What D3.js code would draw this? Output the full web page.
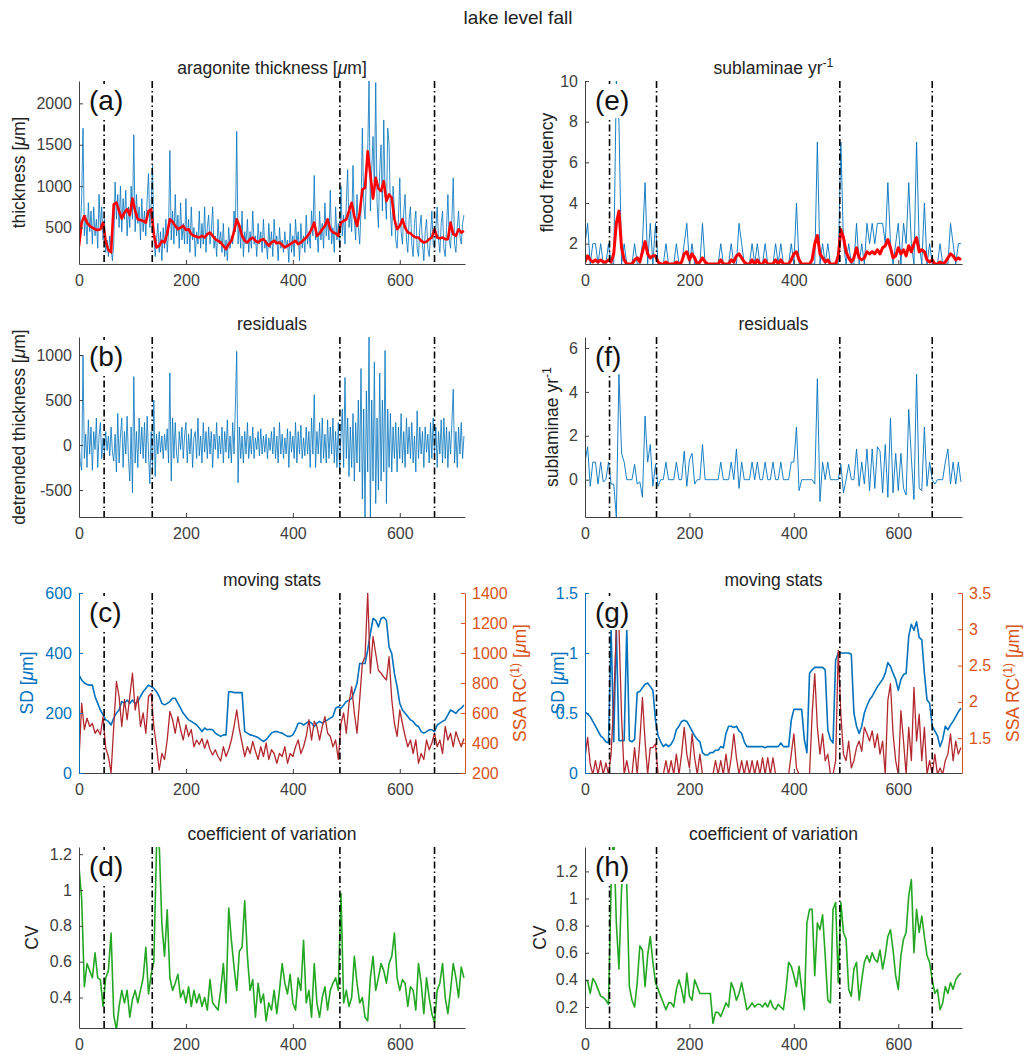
<!DOCTYPE html>
<html>
<head>
<meta charset="utf-8">
<script src="https://cdn.jsdelivr.net/npm/d3@7"></script>
<style>
body { margin: 0; background: #fff; }
svg { display: block; font-family: "Liberation Sans", Arial, Helvetica, sans-serif; }
</style>
</head>
<body>
<svg width="1035" height="1054"></svg>
<script>
// years of the varve record: every 5th year, and every 2.5 years for the raw thickness
const years = d3.range(0, 721, 5);
const yearsFine = d3.range(0, 721, 2.5);
const phaseBounds = [47, 137, 488, 665];
const xTicks = [0, 200, 400, 600];

// (a) aragonite thickness (on yearsFine) and its smoothed version (on years)
const thickness = [
	250,500,850,1700,400,650,300,800,450,700,300,750,400,600,250,900,
	500,750,350,600,200,350,150,400,250,100,300,1050,600,900,500,1000,
	450,850,600,950,400,750,500,1000,600,1620,450,900,550,750,350,850,
	450,700,400,850,1150,500,800,1250,400,150,350,550,200,450,100,500,
	250,600,200,450,1430,350,700,300,900,400,650,250,800,350,550,300,
	850,300,600,200,750,350,500,150,450,300,700,250,550,300,750,200,
	500,650,300,450,750,250,400,150,600,300,450,200,550,150,350,100,
	500,250,400,300,700,450,1660,300,550,250,700,150,450,300,600,200,
	450,250,700,300,400,150,550,300,450,200,600,250,350,120,550,250,
	450,150,600,300,400,100,500,250,350,200,450,250,350,80,550,200,
	400,150,600,300,450,100,550,250,400,200,650,300,450,250,700,400,
	1130,350,450,200,700,350,550,250,800,400,600,350,950,300,500,200,
	750,350,550,250,1000,400,650,300,800,1200,500,700,450,1250,600,350,
	900,500,300,700,1700,800,600,1100,1400,2270,700,1200,1600,900,2250,800,
	500,1200,1500,700,1800,900,600,1700,1500,700,400,1000,700,350,250,600,
	1100,450,300,700,900,350,200,600,750,300,150,550,700,250,150,500,
	650,300,100,450,600,250,150,400,700,300,250,500,750,350,200,550,
	700,250,150,500,900,350,250,600,1100,300,200,500,700,400,300,550,
	650
];
const thicknessSmooth = [
	275,560,640,560,520,500,480,470,480,560,
	330,230,200,780,800,700,610,680,720,650,
	850,700,600,590,580,560,700,720,420,260,
	280,340,320,430,600,570,520,480,500,520,
	470,480,420,400,390,380,400,380,420,440,
	400,360,340,320,280,240,300,340,450,600,
	520,400,340,320,360,380,340,320,350,360,
	320,280,320,340,310,320,290,260,280,300,
	320,340,300,320,350,380,420,480,560,400,
	430,480,520,600,480,440,430,400,560,580,
	600,700,800,640,520,680,960,980,1420,1140,
	850,1100,970,940,1060,820,900,860,600,480,
	520,600,500,440,430,400,380,380,340,320,
	330,360,380,480,380,370,380,360,360,560,
	420,400,480,440,460
];

// (b) detrended thickness (on yearsFine)
const thicknessResid = [
	50,-200,-280,1000,-150,120,-250,280,-100,200,-280,150,-50,300,-250,100,
	250,-150,80,-100,150,-60,100,-120,200,-80,-180,120,-300,350,-200,100,
	300,-250,150,-100,320,-150,-400,200,-530,760,-200,150,-250,300,-100,200,
	-150,250,-200,320,-100,-430,150,-250,500,-350,120,-100,150,-80,100,-150,
	120,-60,180,-200,800,-400,300,-150,250,-100,-200,150,-50,200,-150,100,
	250,-200,120,-100,180,-250,80,150,-150,300,-120,100,-200,250,-80,150,
	-150,200,-100,150,-250,120,-50,250,-150,100,-100,200,-200,150,-80,280,
	-150,100,-200,250,-100,420,1040,-420,200,-150,100,-200,150,-100,250,-150,
	100,-100,200,-150,80,-50,150,-120,180,-100,100,-80,120,-150,80,-60,
	150,-100,200,-150,100,-200,250,-100,120,-150,80,-100,180,-250,150,-80,
	100,-150,250,-200,150,-100,220,-150,80,-120,200,-100,150,-250,300,-100,
	560,-250,150,-100,250,-200,300,-150,120,-200,280,-150,200,-100,300,-200,
	150,-250,250,-300,100,400,-250,750,-150,300,-350,200,-250,350,-400,250,
	-200,500,-300,850,-600,400,-800,600,-300,1200,-800,500,-400,920,-650,300,
	-500,800,-400,500,-300,1050,-650,400,-250,350,-300,200,-150,250,-300,200,
	-150,350,-200,150,-250,300,-100,200,-150,250,-200,100,-300,380,-150,200,
	-100,150,-250,200,-80,120,-200,250,-150,300,-100,200,-250,150,-100,280,
	-200,300,-150,200,-250,150,-100,250,620,-200,150,-250,200,-100,250,-150,
	100
];

// (c) moving SD and SSA RC(1) of thickness
const thicknessSD = [
	327,310,300,295,293,293,255,232,210,194,
	177,172,160,183,200,210,238,232,243,232,
	243,232,238,255,271,282,293,288,282,271,
	255,232,227,232,238,249,249,232,216,199,
	188,177,172,166,160,150,138,150,144,146,
	144,133,127,122,127,127,271,271,268,268,
	268,268,138,133,127,125,122,118,111,105,
	111,122,133,138,138,135,133,127,122,122,
	127,144,166,166,160,166,172,166,155,166,
	172,166,172,177,183,188,216,221,216,227,
	238,243,249,271,299,365,365,365,410,465,
	515,509,487,515,519,509,420,398,332,288,
	232,210,199,188,177,172,160,155,138,133,
	138,144,144,138,160,166,172,177,194,210,
	205,199,210,216,227
];
const thicknessRC = [
	290,665,490,565,510,530,465,490,455,575,
	365,310,200,510,810,710,510,690,555,710,
	865,620,710,510,600,465,710,730,510,375,
	220,330,290,420,610,555,465,575,490,420,
	520,445,490,375,420,390,430,365,420,355,
	320,355,310,280,375,310,355,420,510,620,
	490,400,310,375,330,410,345,290,375,310,
	400,290,355,330,265,330,310,375,265,330,
	310,375,420,330,375,445,555,420,545,510,
	420,510,575,465,445,375,420,290,530,600,
	465,665,775,600,465,690,930,975,1400,865,
	1110,995,885,865,840,820,975,690,530,445,
	620,530,445,375,420,330,420,265,330,290,
	420,355,400,465,375,420,330,510,420,465,
	375,475,420,375,430
];

// (d) coefficient of variation of thickness
const thicknessCV = [
	1.13,0.95,0.46,0.59,0.55,0.51,0.65,0.51,0.50,0.35,
	0.51,0.55,0.76,0.30,0.22,0.35,0.44,0.37,0.44,0.29,
	0.39,0.44,0.37,0.44,0.51,0.68,0.42,0.53,0.60,1.24,
	1.26,0.81,0.63,0.89,0.51,0.44,0.48,0.53,0.40,0.44,
	0.37,0.46,0.35,0.44,0.37,0.42,0.35,0.40,0.33,0.50,
	0.37,0.35,0.33,0.44,0.59,0.37,0.90,0.72,0.57,0.44,
	0.66,0.68,0.94,0.63,0.44,0.50,0.29,0.48,0.37,0.42,
	0.27,0.37,0.33,0.44,0.31,0.44,0.59,0.48,0.42,0.53,
	0.37,0.33,0.51,0.44,0.72,0.37,0.44,0.29,0.59,0.37,
	0.29,0.40,0.46,0.33,0.44,0.48,0.51,0.44,0.98,0.37,
	0.44,0.35,0.40,0.63,0.48,0.37,0.40,0.29,0.27,0.51,
	0.63,0.44,0.51,0.59,0.55,0.48,0.59,0.63,0.76,0.51,
	0.44,0.50,0.48,0.35,0.46,0.44,0.33,0.59,0.48,0.31,
	0.51,0.40,0.31,0.26,0.44,0.48,0.59,0.40,0.31,0.44,
	0.59,0.51,0.40,0.57,0.51
];

// (e) flood frequency (sublaminae per year) and smoothed
const floods = [
	2,3,1,2,2,1,2,1,1,2,
	1,1,10,8,1,2,1,1,1,2,
	1,1,2,5,1,3,1,3,1,1,
	1,2,1,1,1,2,1,1,2,3,
	1,2,1,1,1,3,1,1,1,1,
	1,1,2,1,1,1,2,1,1,3,
	2,1,1,1,2,1,2,1,1,2,
	1,1,1,2,1,2,1,1,1,2,
	1,4,1,1,1,1,1,1,1,7,
	1,2,1,2,1,1,1,1,7,2,
	1,2,1,1,3,1,2,1,3,2,
	3,2,3,3,3,2,5,2,1,2,
	3,1,3,2,5,2,1,7,2,1,
	4,1,2,1,1,1,2,1,1,1,
	3,2,1,2,2
];
const floodsSmooth = [
	1.1,1.4,1.2,1.1,1.2,1.1,1.2,1.1,1.1,1.2,
	1.1,1.5,3.0,3.6,1.8,1.2,1.0,1.0,1.0,1.2,
	1.3,1.1,1.6,2.1,1.5,1.3,1.4,1.4,1.1,1.0,
	1.0,1.1,1.0,1.0,1.0,1.1,1.0,1.1,1.5,1.6,
	1.2,1.5,1.3,1.0,1.1,1.3,1.1,1.0,1.0,1.0,
	1.0,1.0,1.2,1.0,1.0,1.0,1.2,1.1,1.4,1.5,
	1.3,1.1,1.0,1.0,1.2,1.0,1.2,1.0,1.0,1.2,
	1.0,1.0,1.0,1.2,1.0,1.2,1.0,1.0,1.0,1.2,
	1.5,1.6,1.2,1.0,1.0,1.0,1.0,1.2,2.0,2.4,
	1.5,1.3,1.1,1.2,1.0,1.0,1.0,1.4,2.7,2.3,
	1.6,1.3,1.1,1.3,1.8,1.3,1.2,1.3,1.6,1.5,
	1.6,1.5,1.7,1.5,1.8,1.9,2.2,1.8,1.3,1.4,
	1.8,1.5,1.7,1.4,1.9,1.6,2.0,2.3,1.6,1.7,
	1.6,1.2,1.1,1.2,1.0,1.0,1.1,1.0,1.1,1.3,
	1.5,1.4,1.2,1.3,1.2
];

// (f) flood frequency residuals
const floodsResid = [
	0.8,1.5,-0.3,0.8,0.8,-0.2,0.8,-0.1,0,0.8,
	-0.2,-0.2,-1.7,4.8,1.2,0.8,0,0,0,0.7,
	-0.2,-0.1,-0.8,2.9,0.8,1.6,-0.3,0.7,-0.3,0,
	0,0.8,0,0,0,0.8,0,0,1.3,-0.3,
	0.9,1.2,-0.2,0,0,1.6,0,0,0,0,
	0,0,0.8,0,0,0,0.8,0,1.4,-0.4,
	0.8,0,0,0,0.8,0,0.8,0,0,0.8,
	0,0,0.8,0,0,0.8,0,0,0,0.8,
	0.8,2.4,-0.5,0,0,0,0,0,-0.2,4.6,
	-1.0,0.8,0,0.8,0,0,0,0,0.7,-0.6,
	0,0.7,0,0,1.4,-0.3,0.8,-0.2,1.4,-0.5,
	1.4,-0.4,1.5,1.3,-0.6,1.6,-0.8,2.8,-0.6,1.2,
	-0.5,1.2,-0.4,-0.7,3.2,1.0,-0.9,4.8,-0.4,-0.5,
	2.4,-0.3,0.8,0,-0.2,0,0,0,0.8,1.4,
	-0.2,0.8,-0.2,0.8,-0.1
];

// (g) moving SD and SSA RC(1) of floods
const floodsSD = [
	0.51,0.49,0.47,0.43,0.39,0.35,0.31,0.29,0.26,0.25,
	1.2,0.26,1.2,0.27,0.27,0.27,1.2,0.27,0.26,0.28,
	0.67,0.68,0.71,0.74,0.75,0.72,0.69,0.44,0.31,0.26,
	0.22,0.24,0.22,0.24,0.28,0.36,0.39,0.43,0.44,0.43,
	0.39,0.35,0.31,0.28,0.26,0.17,0.15,0.15,0.17,0.17,
	0.19,0.19,0.22,0.21,0.33,0.39,0.39,0.38,0.39,0.35,
	0.33,0.26,0.22,0.22,0.22,0.22,0.22,0.22,0.22,0.21,
	0.22,0.22,0.22,0.22,0.22,0.25,0.22,0.22,0.22,0.44,
	0.53,0.53,0.53,0.53,0.28,0.17,0.83,0.86,0.88,0.88,
	0.88,0.88,0.86,0.36,0.28,0.25,0.94,1.0,1.0,1.0,
	1.0,1.0,0.99,0.5,0.39,0.33,0.39,0.5,0.56,0.61,
	0.64,0.68,0.72,0.75,0.78,0.83,0.92,0.89,0.83,0.78,
	0.69,0.78,0.82,0.83,1.14,1.24,1.19,1.26,1.13,1.11,
	0.83,0.61,0.58,0.39,0.35,0.31,0.22,0.28,0.39,0.36,
	0.4,0.43,0.47,0.51,0.54
];
const floodsRC = [
	1.23,1.51,1.14,1.0,1.19,1.0,1.19,1.0,1.16,1.0,
	1.28,2.0,3.0,3.04,1.8,1.0,1.19,1.0,1.0,1.37,
	1.0,1.46,2.06,1.46,1.0,1.37,1.37,1.42,1.0,1.0,
	1.0,1.19,1.0,1.19,1.0,1.28,1.0,1.28,1.65,1.28,
	1.09,1.56,1.23,1.0,1.28,1.0,1.0,1.0,1.0,1.0,
	1.19,1.0,1.19,1.0,1.28,1.0,1.23,1.56,1.23,1.0,
	1.19,1.0,1.19,1.0,1.19,1.0,1.19,1.0,1.23,1.0,
	1.23,1.0,1.23,1.0,1.0,1.0,1.0,1.0,1.0,1.28,
	1.56,1.09,1.0,1.0,1.0,1.0,1.0,1.83,2.39,1.65,
	1.28,1.56,1.19,1.28,1.0,1.0,1.19,2.71,1.83,1.28,
	1.19,1.46,1.09,1.19,1.37,1.46,1.32,1.65,1.56,1.46,
	1.6,1.37,1.56,1.28,1.46,1.0,2.02,2.25,1.56,1.19,
	1.0,1.88,1.46,1.0,1.65,1.19,2.2,1.46,1.83,1.19,
	1.65,1.0,1.19,1.0,1.28,1.0,1.09,1.0,1.19,1.28,
	1.56,1.19,1.46,1.28,1.37
];

// (h) coefficient of variation of floods
const floodsCV = [
	0.40,0.39,0.30,0.41,0.38,0.33,0.28,0.27,0.25,0.22,
	1.1,1.5,0.82,0.48,1.07,1.3,1.1,0.35,0.25,0.20,
	0.38,0.65,0.62,0.35,0.58,0.72,0.53,0.38,0.33,0.28,
	0.23,0.18,0.23,0.23,0.20,0.33,0.40,0.33,0.23,0.45,
	0.28,0.25,0.40,0.35,0.30,0.30,0.30,0.30,0.30,0.08,
	0.16,0.16,0.13,0.18,0.23,0.20,0.38,0.33,0.25,0.30,
	0.38,0.28,0.18,0.20,0.23,0.20,0.22,0.22,0.20,0.23,
	0.20,0.25,0.20,0.18,0.22,0.20,0.18,0.33,0.53,0.50,
	0.43,0.35,0.50,0.33,0.18,0.82,0.92,0.92,0.43,0.82,
	0.77,0.88,0.58,0.25,0.23,0.92,0.97,0.38,0.97,0.75,
	0.70,0.33,0.28,0.48,0.53,0.25,0.40,0.53,0.58,0.53,
	0.60,0.55,0.53,0.62,0.48,0.58,0.72,0.77,0.62,0.43,
	0.33,0.58,0.70,0.75,1.02,1.14,0.60,0.92,0.75,0.87,
	0.72,0.58,0.53,0.40,0.30,0.33,0.18,0.23,0.35,0.30,
	0.38,0.33,0.40,0.43,0.45
];

const BLUE = '#0072BD', ORANGE = '#D95319', DARKRED = '#B3282E', RED = '#FF0000', GREEN = '#24A824';
const AXIS = '#404040';

const svg = d3.select('svg');
svg.append('rect').attr('width', 1035).attr('height', 1054).attr('fill', '#fff');

const colL = { left: 79, right: 465 }, colR = { left: 585, right: 962 };
const rows = [[81, 264], [337, 517], [593, 773], [847, 1028]];

// add text made of parts: {t, it, sup}
function richText(sel, parts) {
	parts.forEach(p => {
		const ts = sel.append('tspan').text(p.t);
		if (p.it) ts.attr('font-style', 'italic');
		if (p.sup) ts.attr('font-size', '0.7em').attr('dy', '-0.55em');
		if (p.after) ts.attr('dy', '0.385em');
	});
	return sel;
}
const um = [{ t: ' [' }, { t: 'μ', it: 1 }, { t: 'm]' }];

function drawPanel(cfg) {
	const { left, right } = cfg.col;
	const [top, bottom] = cfg.row;
	const x = d3.scaleLinear().domain([0, 722]).range([left, right]);
	const y = d3.scaleLinear().domain(cfg.yDomain).range([bottom, top]);
	const y2 = cfg.y2Domain ? d3.scaleLinear().domain(cfg.y2Domain).range([bottom, top]) : null;

	const clipId = 'clip-' + cfg.tag;
	svg.append('clipPath').attr('id', clipId).append('rect')
		.attr('x', left).attr('y', top).attr('width', right - left).attr('height', bottom - top);
	const plot = svg.append('g').attr('clip-path', `url(#${clipId})`);

	cfg.series.forEach(s => {
		const sy = s.right ? y2 : y;
		const xs = s.xs || years;
		plot.append('path')
			.datum(s.values)
			.attr('fill', 'none')
			.attr('stroke', s.color)
			.attr('stroke-width', s.width)
			.attr('stroke-linejoin', 'round')
			.attr('d', d3.line().x((d, i) => x(xs[i])).y(d => sy(d)));
	});

	// phase boundaries
	plot.selectAll('line.phase')
		.data(phaseBounds)
		.join('line')
		.attr('class', 'phase')
		.attr('x1', d => x(d)).attr('x2', d => x(d))
		.attr('y1', top).attr('y2', bottom)
		.attr('stroke', '#000')
		.attr('stroke-width', 1.6)
		.attr('stroke-dasharray', '7,3,1.5,3');

	// axes
	const styleAxis = (g, color) => {
		g.selectAll('path').attr('stroke', color);
		g.selectAll('line').attr('stroke', color);
		g.selectAll('text').attr('fill', color).attr('font-size', 16)
			.attr('font-family', '"Liberation Sans", Arial, sans-serif');
	};
	svg.append('g')
		.attr('transform', `translate(0,${bottom})`)
		.call(d3.axisBottom(x).tickValues(xTicks).tickSizeInner(-4).tickSizeOuter(0).tickPadding(11))
		.call(g => styleAxis(g, AXIS));
	svg.append('g')
		.attr('transform', `translate(${left},0)`)
		.call(d3.axisLeft(y).tickValues(cfg.yTicks).tickFormat(d => String(d)).tickSizeInner(-4).tickSizeOuter(0).tickPadding(7))
		.call(g => styleAxis(g, cfg.leftColor || AXIS));
	if (y2) {
		svg.append('g')
			.attr('transform', `translate(${right},0)`)
			.call(d3.axisRight(y2).tickValues(cfg.y2Ticks).tickFormat(d => String(d)).tickSizeInner(-4).tickSizeOuter(0).tickPadding(7))
			.call(g => styleAxis(g, ORANGE));
	}

	// title
	richText(svg.append('text')
		.attr('x', (left + right) / 2).attr('y', top - 7)
		.attr('text-anchor', 'middle').attr('font-size', 17.5).attr('fill', '#222'), cfg.title);

	// y labels
	const midY = (top + bottom) / 2;
	richText(svg.append('text')
		.attr('transform', `translate(${cfg.ylabelX},${midY}) rotate(-90)`)
		.attr('text-anchor', 'middle').attr('font-size', 17.5)
		.attr('fill', cfg.leftColor || '#222'), cfg.ylabel);
	if (cfg.y2label) {
		richText(svg.append('text')
			.attr('transform', `translate(${cfg.y2labelX},${midY}) rotate(-90)`)
			.attr('text-anchor', 'middle').attr('font-size', 17.5)
			.attr('fill', ORANGE), cfg.y2label);
	}

	// panel letter on white box
	const lab = svg.append('text')
		.attr('x', left + 10).attr('y', top + 29)
		.attr('font-size', 28).attr('fill', '#111')
		.text(`(${cfg.tag})`);
	const bb = lab.node().getBBox();
	svg.insert('rect', () => lab.node())
		.attr('x', bb.x - 2).attr('y', bb.y - 1)
		.attr('width', bb.width + 4).attr('height', bb.height + 3)
		.attr('fill', '#fff');
}

svg.append('text')
	.attr('x', 518).attr('y', 24)
	.attr('text-anchor', 'middle').attr('font-size', 19).attr('fill', '#222')
	.text('lake level fall');

const rcLabel = [{ t: 'SSA  RC' }, { t: '(1)', sup: 1 }, { t: ' [', after: 1 }, { t: 'μ', it: 1 }, { t: 'm]' }];

drawPanel({
	tag: 'a', col: colL, row: rows[0], yDomain: [60, 2270], yTicks: [500, 1000, 1500, 2000],
	title: [{ t: 'aragonite thickness' }, ...um], ylabel: [{ t: 'thickness' }, ...um], ylabelX: 25,
	series: [
		{ values: thickness, xs: yearsFine, color: BLUE, width: 0.8 },
		{ values: thicknessSmooth, color: RED, width: 2.6 }
	]
});
drawPanel({
	tag: 'b', col: colL, row: rows[1], yDomain: [-800, 1200], yTicks: [-500, 0, 500, 1000],
	title: [{ t: 'residuals' }], ylabel: [{ t: 'detrended thickness' }, ...um], ylabelX: 25,
	series: [{ values: thicknessResid, xs: yearsFine, color: BLUE, width: 0.8 }]
});
drawPanel({
	tag: 'c', col: colL, row: rows[2], yDomain: [0, 600], yTicks: [0, 200, 400, 600],
	y2Domain: [200, 1400], y2Ticks: [200, 400, 600, 800, 1000, 1200, 1400],
	leftColor: BLUE, title: [{ t: 'moving stats' }],
	ylabel: [{ t: 'SD' }, ...um], ylabelX: 33, y2label: rcLabel, y2labelX: 526,
	series: [
		{ values: thicknessSD, color: BLUE, width: 1.6 },
		{ values: thicknessRC, color: DARKRED, width: 1.3, right: true }
	]
});
drawPanel({
	tag: 'd', col: colL, row: rows[3], yDomain: [0.23, 1.24], yTicks: [0.4, 0.6, 0.8, 1, 1.2],
	title: [{ t: 'coefficient of variation' }], ylabel: [{ t: 'CV' }], ylabelX: 38,
	series: [{ values: thicknessCV, color: GREEN, width: 1.6 }]
});
drawPanel({
	tag: 'e', col: colR, row: rows[0], yDomain: [1, 10], yTicks: [2, 4, 6, 8, 10],
	title: [{ t: 'sublaminae  yr' }, { t: '-1', sup: 1 }], ylabel: [{ t: 'flood frequency' }], ylabelX: 553,
	series: [
		{ values: floods, color: BLUE, width: 0.9 },
		{ values: floodsSmooth, color: RED, width: 3 }
	]
});
drawPanel({
	tag: 'f', col: colR, row: rows[1], yDomain: [-1.7, 6.5], yTicks: [0, 2, 4, 6],
	title: [{ t: 'residuals' }], ylabel: [{ t: 'sublaminae  yr' }, { t: '-1', sup: 1 }], ylabelX: 558,
	series: [{ values: floodsResid, color: BLUE, width: 0.9 }]
});
drawPanel({
	tag: 'g', col: colR, row: rows[2], yDomain: [0, 1.5], yTicks: [0, 0.5, 1, 1.5],
	y2Domain: [1.02, 3.5], y2Ticks: [1.5, 2, 2.5, 3, 3.5],
	leftColor: BLUE, title: [{ t: 'moving stats' }],
	ylabel: [{ t: 'SD' }, ...um], ylabelX: 564, y2label: rcLabel, y2labelX: 1019,
	series: [
		{ values: floodsSD, color: BLUE, width: 1.6 },
		{ values: floodsRC, color: DARKRED, width: 1.3, right: true }
	]
});
drawPanel({
	tag: 'h', col: colR, row: rows[3], yDomain: [0.045, 1.38], yTicks: [0.2, 0.4, 0.6, 0.8, 1, 1.2],
	title: [{ t: 'coefficient of variation' }], ylabel: [{ t: 'CV' }], ylabelX: 546,
	series: [{ values: floodsCV, color: GREEN, width: 1.6 }]
});
</script>
</body>
</html>
